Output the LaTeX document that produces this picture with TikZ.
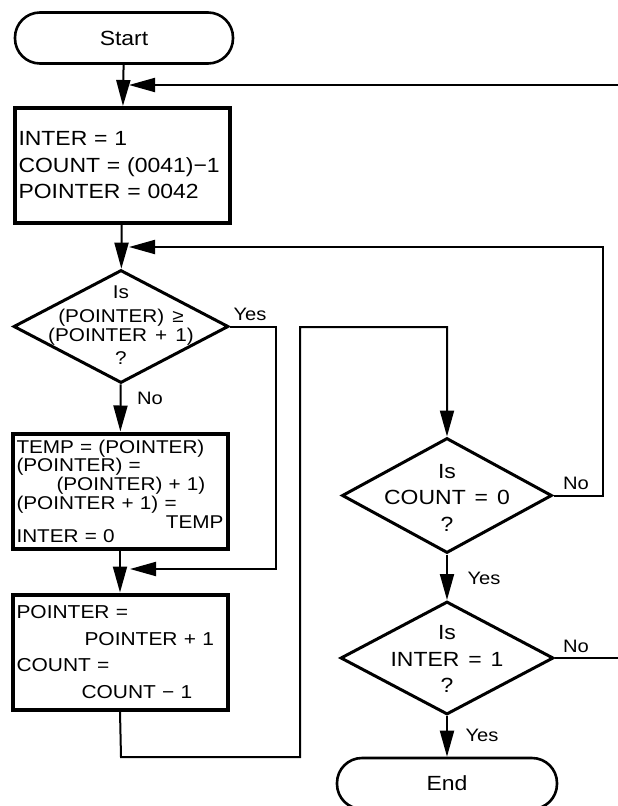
\documentclass[tikz,border=0pt]{standalone}
\usepackage{fontspec}
\setmainfont[FakeStretch=1.12,WordSpace=1.4]{Liberation Sans}
\usetikzlibrary{shapes.geometric,arrows.meta}
\begin{document}
\begin{tikzpicture}[x=1pt,y=-1pt,
  txt/.style={font=\fontsize{20.5}{26.5}\selectfont},
  term/.style={draw,line width=2.6pt,rounded corners=25pt,minimum width=218pt,minimum height=51pt,inner sep=0pt,txt},
  procbox/.style={draw,line width=4pt,minimum width=215pt,minimum height=115pt,inner xsep=3pt,inner ysep=0pt,text width=207pt,align=left,txt},
  dec/.style={draw,diamond,line width=3pt,inner sep=0pt},
  dtext/.style={align=center,inner sep=0pt,txt},
  conn/.style={line width=2pt},
  arr/.style={conn,-{Triangle[length=26pt,width=14pt]}},
  lbl/.style={inner sep=0pt,font=\fontsize{18}{20}\selectfont}
]
\useasboundingbox (0,0) rectangle (618,806);

% nodes
\node[term] (start) at (124,38) {Start};
\node[procbox] (b1) at (122,165.5) {INTER = 1\\COUNT = (0041)−1\\POINTER = 0042};
\node[dec,minimum width=215pt,minimum height=113pt,
      label={[dtext,font=\fontsize{18.5}{19}\selectfont,yshift=1pt]center:{Is\\[5pt](POINTER) ≥\\(POINTER + 1)\\[4pt]?}}] (d1) at (121,326.5) {};
\node[procbox,font=\fontsize{18.5}{19}\selectfont] (b2) at (120,491) {TEMP = (POINTER)\\[-1pt](POINTER) =\\\hspace*{40pt}(POINTER) + 1)\\(POINTER + 1) =\\\hfill TEMP\\[-5pt]INTER = 0};
\node[procbox,font=\fontsize{18.7}{26.5}\selectfont] (b3) at (120,652) {POINTER =\\\hspace*{68pt}\mbox{POINTER + 1}\\COUNT =\\\hspace*{65pt}\mbox{COUNT − 1}};
\node[dec,minimum width=210pt,minimum height=115pt,
      label={[dtext,yshift=-2pt]center:{Is\\COUNT = 0\\?}}] (d2) at (447,495.5) {};
\node[dec,minimum width=213pt,minimum height=113pt,
      label={[dtext,yshift=-1pt]center:{Is\\INTER = 1\\?}}] (d3) at (447,658) {};
\node[term,minimum width=220pt] (end) at (447,783.5) {End};

% junction points
\coordinate (j1) at (129,85);
\coordinate (j2) at (129,247);
\coordinate (j3) at (130,569);

% connectors
\draw[arr] (start) -- (b1);
\draw[arr] (b1) -- (d1);
\draw[arr] (d1) -- (b2);
\node[lbl] (no1) at (150,398) {No};
\draw[arr] (b2) -- (b3);
\draw[arr] (d1.east) -- (276,326.5) |- (j3);
\node[lbl] (yes1) at (250,314) {Yes};
\draw[arr] (b3.south) -- (121,757) -| (300,327) -| (d2.north);
\draw[arr] (d2.east) -- (603,495.5) |- (j2);
\node[lbl] (no2) at (576,483) {No};
\draw[arr] (d2) -- (d3);
\node[lbl] (yes2) at (484,578) {Yes};
\draw[arr] (d3.east) -- (640,658) |- (j1);
\node[lbl] (no3) at (576,646) {No};
\draw[arr] (d3) -- (end);
\node[lbl] (yes3) at (482,735) {Yes};
\end{tikzpicture}
\end{document}
